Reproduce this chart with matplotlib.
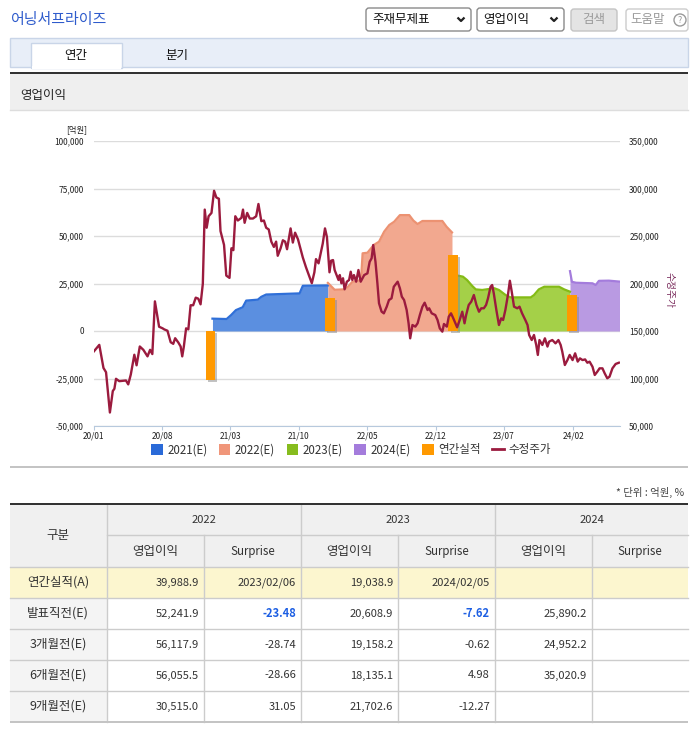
import numpy as np
import pandas as pd
import matplotlib
matplotlib.use("Agg")
import matplotlib.pyplot as plt
import matplotlib.patheffects as pe
from matplotlib.patches import Rectangle, FancyBboxPatch, Patch, Circle
from matplotlib.lines import Line2D
from matplotlib.ticker import FuncFormatter

plt.rcParams['font.family'] = ['Noto Sans CJK KR', 'DejaVu Sans']

# ---- chart data ----
price_dates = [
    '2020-01-02', '2020-01-19', '2020-02-01', '2020-02-09', '2020-02-21', '2020-03-01', '2020-03-06',
    '2020-03-11', '2020-03-21', '2020-04-11', '2020-04-18', '2020-04-26', '2020-05-07', '2020-05-14',
    '2020-05-24', '2020-06-04', '2020-06-17', '2020-06-25', '2020-07-02', '2020-07-10', '2020-07-23',
    '2020-08-03', '2020-08-08', '2020-08-18', '2020-08-28', '2020-09-05', '2020-09-11', '2020-09-21',
    '2020-09-28', '2020-10-03', '2020-10-08', '2020-10-15', '2020-10-22', '2020-10-29', '2020-11-06',
    '2020-11-14', '2020-11-22', '2020-11-29', '2020-12-06', '2020-12-12', '2020-12-18', '2020-12-24',
    '2021-01-02', '2021-01-10', '2021-01-17', '2021-01-25', '2021-01-30', '2021-02-10', '2021-02-17',
    '2021-02-27', '2021-03-05', '2021-03-11', '2021-03-17', '2021-03-25', '2021-04-05', '2021-04-10',
    '2021-04-15', '2021-04-23', '2021-05-01', '2021-05-11', '2021-05-21', '2021-05-28', '2021-06-06',
    '2021-06-14', '2021-06-21', '2021-06-29', '2021-07-07', '2021-07-15', '2021-07-22', '2021-07-27',
    '2021-08-05', '2021-08-12', '2021-08-19', '2021-08-25', '2021-09-05', '2021-09-12', '2021-09-19',
    '2021-09-28', '2021-10-06', '2021-10-13', '2021-10-23', '2021-11-03', '2021-11-10', '2021-11-18',
    '2021-11-23', '2021-12-01', '2021-12-07', '2021-12-14', '2021-12-21', '2021-12-27', '2022-01-04',
    '2022-01-09', '2022-01-15', '2022-01-20', '2022-02-01', '2022-02-05', '2022-02-10', '2022-02-15',
    '2022-02-20', '2022-02-27', '2022-03-06', '2022-03-11', '2022-03-16', '2022-03-21', '2022-03-28',
    '2022-04-04', '2022-04-11', '2022-04-22', '2022-05-02', '2022-05-09', '2022-05-15', '2022-05-20',
    '2022-05-27', '2022-06-02', '2022-06-07', '2022-06-15', '2022-06-22', '2022-07-01', '2022-07-08',
    '2022-07-16', '2022-07-23', '2022-08-04', '2022-08-11', '2022-08-17', '2022-08-24', '2022-09-01',
    '2022-09-07', '2022-09-12', '2022-09-19', '2022-09-28', '2022-10-05', '2022-10-12', '2022-10-20',
    '2022-10-27', '2022-11-05', '2022-11-10', '2022-11-18', '2022-11-29', '2022-12-06', '2022-12-13',
    '2022-12-21', '2022-12-26', '2023-01-04', '2023-01-10', '2023-01-17', '2023-01-24', '2023-02-05',
    '2023-02-13', '2023-02-21', '2023-02-28', '2023-03-05', '2023-03-13', '2023-03-21', '2023-03-29',
    '2023-04-06', '2023-04-14', '2023-04-21', '2023-04-29', '2023-05-06', '2023-05-12', '2023-05-20',
    '2023-05-25', '2023-05-30', '2023-06-07', '2023-06-15', '2023-06-22', '2023-06-28', '2023-07-05',
    '2023-07-13', '2023-07-19', '2023-07-24', '2023-08-01', '2023-08-11', '2023-08-18', '2023-08-26',
    '2023-09-05', '2023-09-12', '2023-09-17', '2023-09-25', '2023-10-02', '2023-10-09', '2023-10-14',
    '2023-10-19', '2023-10-28', '2023-11-05', '2023-11-13', '2023-11-18', '2023-11-28', '2023-12-08',
    '2023-12-17', '2023-12-24', '2023-12-29', '2024-01-06', '2024-01-14', '2024-01-21', '2024-01-30',
    '2024-02-07', '2024-02-15', '2024-02-22', '2024-03-01', '2024-03-09', '2024-03-16', '2024-03-23',
    '2024-04-01', '2024-04-08', '2024-04-16', '2024-04-23', '2024-05-02', '2024-05-09', '2024-05-17',
    '2024-05-24', '2024-06-02', '2024-06-12', '2024-06-22',
]
price_values = [
    128500, 135400, 111100, 106600, 64200, 86800, 89200,
    99700, 97200, 97900, 93800, 104200, 125000, 113900,
    133700, 130200, 123300, 130200, 125700, 181200, 154500,
    152800, 151700, 150300, 138200, 136500, 142400, 137800,
    133700, 123300, 133700, 152800, 151700, 177100, 177100,
    185100, 184000, 178100, 199600, 277800, 258700, 270800,
    274300, 297600, 290600, 289200, 255200, 240600, 208300,
    205900, 237100, 235100, 270800, 266300, 269100, 277800,
    263900, 274300, 268400, 268400, 270800, 283700, 265600,
    266300, 258700, 256900, 244100, 238500, 244100, 229200,
    237100, 245500, 244100, 236100, 258000, 243100, 253500,
    246500, 236100, 227400, 217000, 206600, 200300, 211800,
    225700, 221200, 230900, 242000, 258000, 249000, 211800,
    224000, 224700, 214200, 203700, 208900, 200200, 205500,
    193900, 201900, 203700, 212400, 203700, 208900, 201900,
    214200, 201900, 208900, 210700, 222900, 226500, 240500,
    222900, 200200, 179200, 170400, 168600, 175600, 182600,
    184400, 196600, 201900, 194900, 186100, 182600, 172100,
    158100, 142300, 156300, 154600, 158100, 166800, 175600,
    179800, 172100, 173900, 168600, 166800, 161600, 152800,
    149300, 157400, 154600, 165100, 168600, 163400, 153900,
    161600, 170300, 158100, 166800, 177400, 180900, 187900,
    177400, 170300, 173900, 173900, 177400, 184400, 196600,
    198400, 189600, 172100, 156300, 163300, 161600, 172100,
    187900, 202900, 193100, 175600, 173900, 175600, 168600,
    161600, 156300, 145800, 140500, 145800, 135300, 124800,
    140500, 135300, 142300, 133600, 138800, 140500, 137000,
    140500, 135300, 128300, 114200, 119400, 124800, 119400,
    126500, 117800, 121200, 119400, 120100, 116600, 117700,
    112400, 103700, 107200, 110700, 110700, 105400, 100200,
    101900, 110700, 115300, 116600,
]

est2021_dates = ['2021-01-05', '2021-02-18', '2021-03-04', '2021-03-19', '2021-04-09', '2021-04-20',
                 '2021-05-26', '2021-06-06', '2021-06-21', '2021-10-03', '2021-10-13', '2021-12-30']
est2021_values = [6500, 6300, 8400, 11000, 12500, 16000, 16500, 18000, 19200, 19800, 23800, 24000]

est2022_dates = ['2021-12-30', '2022-01-20', '2022-02-16', '2022-03-01', '2022-03-16', '2022-04-12',
                 '2022-04-17', '2022-05-02', '2022-05-13', '2022-05-22', '2022-06-07', '2022-06-23',
                 '2022-07-09', '2022-07-24', '2022-08-11', '2022-09-09', '2022-09-22', '2022-10-05',
                 '2022-10-20', '2022-12-21', '2023-01-03', '2023-01-20']
est2022_values = [25300, 21700, 21900, 23000, 25900, 26800, 40900, 41200, 43500, 45300, 47000,
                  52300, 55800, 57500, 61000, 61000, 58100, 56300, 57900, 57900, 54900, 51900]

est2023_dates = ['2023-02-03', '2023-02-23', '2023-03-08', '2023-03-24', '2023-04-04', '2023-04-24',
                 '2023-06-01', '2023-06-15', '2023-07-06', '2023-07-21', '2023-09-22', '2023-10-02',
                 '2023-10-17', '2023-11-03', '2023-12-19', '2024-01-04', '2024-01-22']
est2023_values = [29300, 28600, 26800, 23700, 21900, 21600, 22500, 21600, 18900, 17700, 17700,
                  18900, 21900, 23300, 23300, 21900, 20700]

est2024_dates = ['2024-01-22', '2024-01-28', '2024-02-10', '2024-04-01', '2024-04-11', '2024-04-21',
                 '2024-05-22', '2024-06-24']
est2024_values = [31500, 25900, 25400, 25100, 24200, 26400, 26500, 26000]

actual_dates = ['2020-12-30', '2022-01-05', '2023-01-24', '2024-01-29']
actual_values = [-26000, 17200, 39988.9, 19038.9]

xtick_dates = ['2020-01-01', '2020-08-01', '2021-03-01', '2021-10-01',
               '2022-05-01', '2022-12-01', '2023-07-01', '2024-02-01']

# ---- table data ----
table_years = ['2022', '2023', '2024']
row_labels = ['연간실적(A)', '발표직전(E)', '3개월전(E)', '6개월전(E)', '9개월전(E)']
op_2022 = [39988.9, 52241.9, 56117.9, 56055.5, 30515.0]
sur_2022 = ['2023/02/06', -23.48, -28.74, -28.66, 31.05]
op_2023 = [19038.9, 20608.9, 19158.2, 18135.1, 21702.6]
sur_2023 = ['2024/02/05', -7.62, -0.62, 4.98, -12.27]
op_2024 = [None, 25890.2, 24952.2, 35020.9, None]
sur_2024 = [None, None, None, None, None]

W, H = 696, 731
fig = plt.figure(figsize=(W / 100, H / 100), dpi=100)
fig.patch.set_facecolor('white')

# overlay in pixel coordinates for the page furniture
ov = fig.add_axes([0, 0, 1, 1])
ov.set_xlim(0, W)
ov.set_ylim(H, 0)
ov.axis('off')


def box(x0, y0, x1, y1, fc, ec='none', lw=1.0, z=1):
    ov.add_patch(Rectangle((x0, y0), x1 - x0, y1 - y0, facecolor=fc, edgecolor=ec, lw=lw, zorder=z))


def rbox(x0, y0, x1, y1, fc, ec):
    ov.add_patch(FancyBboxPatch((x0, y0), x1 - x0, y1 - y0, boxstyle='round,pad=0,rounding_size=3',
                                facecolor=fc, edgecolor=ec, lw=1.0, zorder=2))


def chevron(x, y):
    ov.plot([x - 3.5, x, x + 3.5], [y - 2, y + 1.5, y - 2], color='#222222', lw=1.6, zorder=3,
            solid_capstyle='butt')


# header
ov.text(10, 20, '어닝서프라이즈', fontsize=10.8, color='#2f5ccc', va='center', ha='left')
rbox(366, 8, 471, 31, 'white', '#8a8a8a')
ov.text(372, 19.5, '주재무제표', fontsize=9, color='#111111', va='center')
chevron(461, 19.5)
rbox(477, 8, 564, 31, 'white', '#8a8a8a')
ov.text(483, 19.5, '영업이익', fontsize=9, color='#111111', va='center')
chevron(554, 19.5)
rbox(571, 9, 617, 31, '#e4e4e4', '#c4c4c4')
ov.text(594, 19.5, '검색', fontsize=9, color='#9a9a9a', va='center', ha='center')
rbox(626, 9, 688, 31, 'white', '#cccccc')
ov.text(630, 19.5, '도움말', fontsize=9, color='#9a9a9a', va='center', ha='left')
ov.add_patch(Circle((680, 20), 6, facecolor='white', edgecolor='#9a9a9a', lw=1.0, zorder=3))
ov.text(680, 20.5, '?', fontsize=6.5, color='#9a9a9a', va='center', ha='center', zorder=4)

# tabs
box(10, 38, 688, 67, '#e8eef8', '#c9d5e8')
box(31, 43, 122, 68, 'white', '#c9d5e8', z=2)
box(31.6, 66, 121.4, 69, 'white', z=3)
ov.text(76, 55, '연간', fontsize=9, color='#111111', va='center', ha='center', zorder=4)
ov.text(177, 55, '분기', fontsize=9, color='#111111', va='center', ha='center')

# section header
box(10, 72, 688, 74, '#333333')
box(10, 74, 688, 110, '#efefef')
ov.plot([10, 688], [110, 110], color='#dddddd', lw=1)
ov.text(20, 96, '영업이익', fontsize=9, color='#222222', va='center')
box(10, 465.5, 688, 467.5, '#c4c4c4')

# ---- chart ----
ax = fig.add_axes([93.5 / W, 1 - 426 / H, 526 / W, 285 / H])
ax.set_facecolor('none')
ax2 = ax.twinx()

series = [
    (est2021_dates, est2021_values, '#5b8fe0', '#2f6fd8'),
    (est2022_dates, est2022_values, '#f2a88f', '#ec9272'),
    (est2023_dates, est2023_values, '#a4d048', '#84bb16'),
    (est2024_dates, est2024_values, '#b99ae2', '#a47cdc'),
]
for d, v, fc, ec in series:
    dd = pd.to_datetime(d)
    ax.fill_between(dd, 0, v, color=fc, lw=0, zorder=1)
    ax.plot(dd, v, color=ec, lw=1.6, zorder=2)

bars = ax.bar(pd.to_datetime(actual_dates), actual_values, width=30, color='#ff9900', zorder=3)
for b in bars:
    b.set_path_effects([pe.SimplePatchShadow(offset=(1.5, -1.5), shadow_rgbFace='#888888', alpha=0.5),
                        pe.Normal()])

ax2.plot(pd.to_datetime(price_dates), price_values, color='#9b1b3e', lw=1.7, zorder=5,
         solid_joinstyle='round')

ax.set_xlim(pd.Timestamp('2020-01-01'), pd.Timestamp('2024-06-24'))
ax.set_ylim(-50000, 100000)
ax2.set_ylim(50000, 350000)
ax.set_yticks(np.arange(-50000, 100001, 25000))
ax2.set_yticks(np.arange(50000, 350001, 50000))
fmt = FuncFormatter(lambda v, p: f'{int(v):,}')
ax.yaxis.set_major_formatter(fmt)
ax2.yaxis.set_major_formatter(fmt)
ax.grid(axis='y', color='#dcdcdc', lw=1)
ax.set_axisbelow(True)

xt = pd.to_datetime(xtick_dates)
ax.set_xticks(xt)
ax.set_xticklabels([t.strftime('%y/%m') for t in xt])

for a in (ax, ax2):
    for s in a.spines.values():
        s.set_visible(False)
ax.spines['bottom'].set_visible(True)
ax.spines['bottom'].set_color('#b7c9dd')
ax.tick_params(axis='y', length=0, labelsize=6, colors='#222222', pad=7)
ax2.tick_params(axis='y', length=0, labelsize=6, colors='#222222', pad=7)
ax.tick_params(axis='x', length=3, color='#b7c9dd', labelsize=6, labelcolor='#222222', pad=1)

ov.text(77, 130, '[억원]', fontsize=6, color='#222222', ha='center', va='center')
ov.text(670, 290, '수정주가', fontsize=7, color='#7a2b5c', ha='center', va='center', rotation=270)

handles = [Patch(facecolor='#2a6ad8', label='2021(E)'),
           Patch(facecolor='#f0967a', label='2022(E)'),
           Patch(facecolor='#86bc1e', label='2023(E)'),
           Patch(facecolor='#a47cdc', label='2024(E)'),
           Patch(facecolor='#ff9900', label='연간실적'),
           Line2D([], [], color='#9b1b3e', lw=2, label='수정주가')]
fig.legend(handles=handles, loc='center', bbox_to_anchor=(351 / W, 1 - 450 / H), ncol=6,
           frameon=False, fontsize=8.3, handlelength=1.0, handleheight=1.0, handletextpad=0.4,
           columnspacing=1.0, labelcolor='#333333')

# ---- table ----
ov.text(684, 492, '* 단위 : 억원, %', fontsize=7.5, color='#444444', ha='right', va='center')
cols = [10, 107, 204, 301, 398, 495, 592, 688]
rows = [504, 535, 567, 598, 629, 660, 691, 722]

box(10, 504, 688, 567, '#f0f0f0')
box(10, 567, 688, 598, '#fcf6cf')
for r in range(2, 6):
    box(10, rows[r + 1], 107, rows[r + 2], '#f4f4f4')

grid_c = '#cccccc'
for r in range(2, 7):
    ov.plot([10, 688], [rows[r], rows[r]], color=grid_c, lw=1, zorder=3)
ov.plot([107, 688], [535, 535], color=grid_c, lw=1, zorder=3)
for i, c in enumerate(cols[1:-1], start=1):
    y0 = 504 if i % 2 == 1 else 535
    ov.plot([c, c], [y0, 722], color=grid_c, lw=1, zorder=3)
box(10, 503, 688, 505, '#333333', z=4)
box(10, 721, 688, 723, '#c4c4c4', z=4)

txt_c = '#333333'
ov.text(58, 535.5, '구분', fontsize=9, color=txt_c, ha='center', va='center', zorder=5)
for k, yr in enumerate(table_years):
    xc = (cols[1 + 2 * k] + cols[3 + 2 * k]) / 2
    ov.text(xc, 520, yr, fontsize=8, color=txt_c, ha='center', va='center', zorder=5)
    ov.text((cols[1 + 2 * k] + cols[2 + 2 * k]) / 2, 551.5, '영업이익', fontsize=9, color=txt_c,
            ha='center', va='center', zorder=5)
    ov.text((cols[2 + 2 * k] + cols[3 + 2 * k]) / 2, 551.5, 'Surprise', fontsize=8.3, color=txt_c,
            ha='center', va='center', zorder=5)

op_cols = [op_2022, op_2023, op_2024]
sur_cols = [sur_2022, sur_2023, sur_2024]
for r, lab in enumerate(row_labels):
    yc = (rows[r + 2] + rows[r + 3]) / 2
    ov.text(58, yc, lab, fontsize=9, color=txt_c, ha='center', va='center', zorder=5)
    for k in range(3):
        v = op_cols[k][r]
        if v is not None:
            ov.text(cols[2 + 2 * k] - 5, yc, f'{v:,.1f}', fontsize=8, color=txt_c,
                    ha='right', va='center', zorder=5)
        s = sur_cols[k][r]
        if s is not None:
            label = s if isinstance(s, str) else f'{s:.2f}'
            blue = (r == 1)
            ov.text(cols[3 + 2 * k] - 5, yc, label, fontsize=8,
                    color='#1d5fe3' if blue else txt_c, fontweight='bold' if blue else 'normal',
                    ha='right', va='center', zorder=5)

fig.savefig('out.png', dpi=100)
